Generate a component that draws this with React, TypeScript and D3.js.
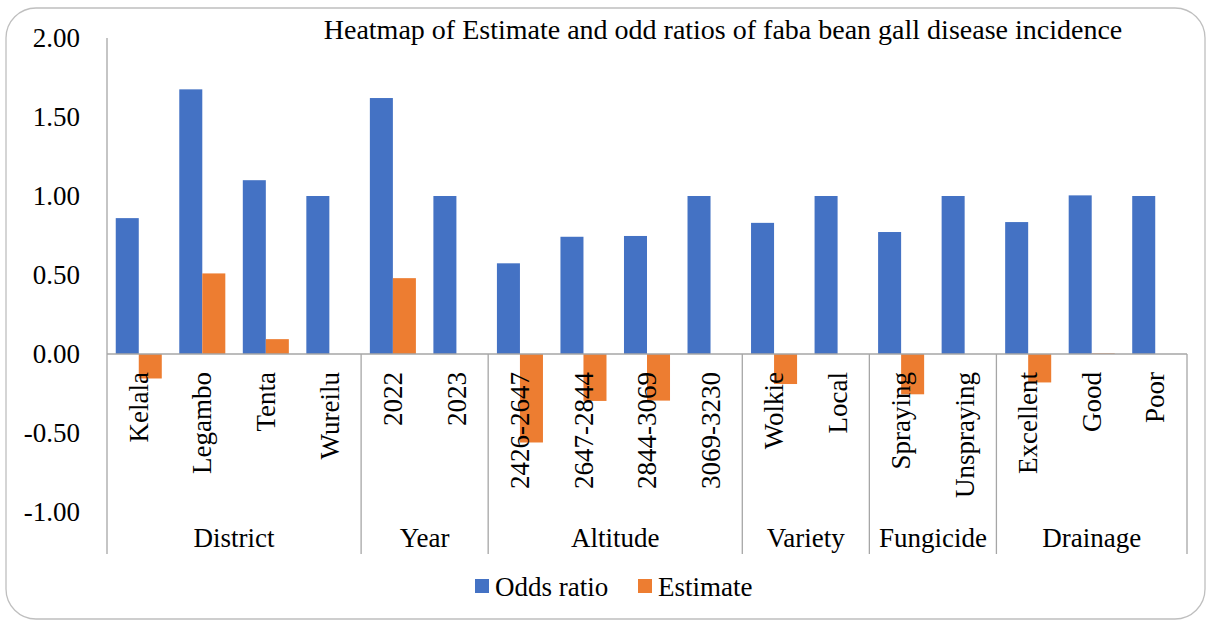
import { useEffect, useRef } from "react";
import * as d3 from "d3";

const categories = [
  "Kelala", "Legambo", "Tenta", "Wureilu",
  "2022", "2023",
  "2426-2647", "2647-2844", "2844-3069", "3069-3230",
  "Wolkie", "Local",
  "Spraying", "Unspraying",
  "Excellent", "Good", "Poor",
];
const groupNames = ["District", "Year", "Altitude", "Variety", "Fungicide", "Drainage"];
const groupSizes = [4, 2, 4, 2, 2, 3];
const oddsRatio = [0.86, 1.675, 1.1, 1.0, 1.62, 1.0, 0.574, 0.742, 0.747, 1.0, 0.83, 1.0, 0.772, 1.0, 0.835, 1.004, 1.0];
const estimate = [-0.155, 0.51, 0.094, 0, 0.48, 0, -0.56, -0.297, -0.295, 0, -0.19, 0, -0.255, 0, -0.18, 0.004, 0];
const yTicks = [-1, -0.5, 0, 0.5, 1, 1.5, 2];
const seriesNames = ["Odds ratio", "Estimate"];
const seriesColors = ["#4472C4", "#ED7D31"];

const FONT = "'Liberation Serif', 'Times New Roman', serif";

const App = () => {
  const ref = useRef<SVGSVGElement>(null);

  useEffect(() => {
    const svg = d3.select(ref.current);
    svg.selectAll("*").remove();

    const left = 107, right = 1187, top = 38, bottom = 512, catBottom = 554;

    // frame
    svg.append("rect")
      .attr("x", 6).attr("y", 8)
      .attr("width", 1199).attr("height", 611)
      .attr("rx", 30)
      .attr("fill", "#fff")
      .attr("stroke", "#bfbfbf")
      .attr("stroke-width", 1.3);

    const x0 = d3.scaleBand().domain(categories).range([left, right]);
    const x1 = d3.scaleBand().domain(seriesNames).range([0, x0.bandwidth()]).paddingOuter(0.38);
    const y = d3.scaleLinear().domain([-1, 2]).range([bottom, top]);

    // y labels (hyphen minus like the original)
    svg.append("g")
      .selectAll("text")
      .data(yTicks)
      .enter()
      .append("text")
      .attr("x", 80)
      .attr("y", (d) => y(d))
      .attr("dy", "0.34em")
      .attr("text-anchor", "end")
      .style("font-family", FONT)
      .style("font-size", "27px")
      .attr("fill", "#000")
      .text((d) => d.toFixed(2));

    // bars
    const values = [oddsRatio, estimate];
    values.forEach((vals, si) => {
      svg.append("g")
        .selectAll("rect")
        .data(vals)
        .enter()
        .append("rect")
        .attr("x", (d, i) => x0(categories[i])! + x1(seriesNames[si])!)
        .attr("width", x1.bandwidth())
        .attr("y", (d) => y(Math.max(0, d)))
        .attr("height", (d) => Math.abs(y(d) - y(0)))
        .attr("fill", seriesColors[si]);
    });

    // axis lines
    const axisColor = "#a6a6a6";
    svg.append("line")
      .attr("x1", left).attr("x2", left)
      .attr("y1", top).attr("y2", catBottom)
      .attr("stroke", axisColor).attr("stroke-width", 1.3);
    svg.append("line")
      .attr("x1", left).attr("x2", right)
      .attr("y1", y(0)).attr("y2", y(0))
      .attr("stroke", axisColor).attr("stroke-width", 1.3);

    // group separators and labels
    let start = 0;
    groupNames.forEach((g, gi) => {
      const end = start + groupSizes[gi];
      const gx0 = x0(categories[start])!;
      const gx1 = x0(categories[end - 1])! + x0.bandwidth();
      svg.append("line")
        .attr("x1", gx1).attr("x2", gx1)
        .attr("y1", y(0)).attr("y2", catBottom)
        .attr("stroke", axisColor).attr("stroke-width", 1.3);
      svg.append("text")
        .attr("x", (gx0 + gx1) / 2)
        .attr("y", 547)
        .attr("text-anchor", "middle")
        .style("font-family", FONT)
        .style("font-size", "27px")
        .text(g);
      start = end;
    });

    // category labels
    svg.append("g")
      .selectAll("text")
      .data(categories)
      .enter()
      .append("text")
      .attr("transform", (d) => `translate(${x0(d)! + x0.bandwidth() / 2},372) rotate(-90)`)
      .attr("text-anchor", "end")
      .attr("dy", "0.34em")
      .style("font-family", FONT)
      .style("font-size", "27px")
      .text((d) => d);

    // title
    svg.append("text")
      .attr("x", 723)
      .attr("y", 39)
      .attr("text-anchor", "middle")
      .style("font-family", FONT)
      .style("font-size", "28px")
      .text("Heatmap of Estimate and odd ratios of faba bean gall disease incidence");

    // legend
    const legendX = [475, 638];
    seriesNames.forEach((s, i) => {
      svg.append("rect")
        .attr("x", legendX[i]).attr("y", 579)
        .attr("width", 14).attr("height", 14)
        .attr("fill", seriesColors[i]);
      svg.append("text")
        .attr("x", legendX[i] + 20)
        .attr("y", 596)
        .style("font-family", FONT)
        .style("font-size", "27px")
        .text(s);
    });
  }, []);

  return (
    <svg
      ref={ref}
      width={1207}
      height={622}
      style={{ position: "absolute", left: 0, top: 0 }}
    ></svg>
  );
};

export default App;
